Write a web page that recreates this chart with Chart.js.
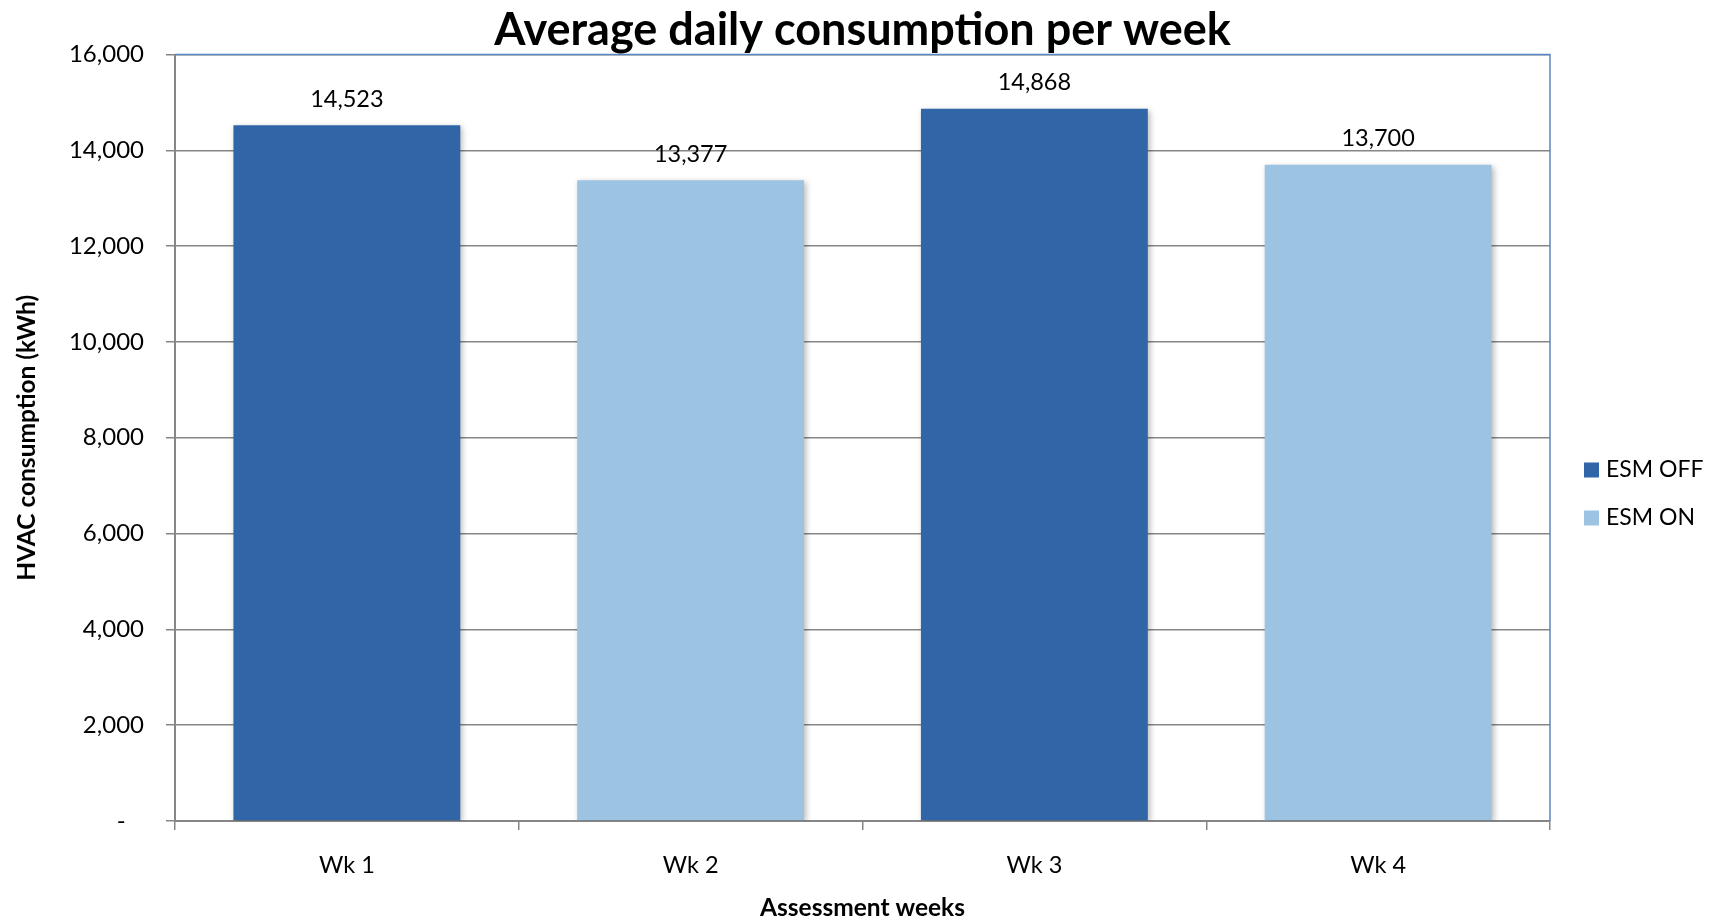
<!DOCTYPE html>
<html>
<head>
<meta charset="utf-8">
<script src="https://cdn.jsdelivr.net/npm/chart.js@4.4.1/dist/chart.umd.min.js"></script>
<style>
  html, body { margin: 0; padding: 0; background: #fff; }
</style>
</head>
<body>
<canvas id="chart" width="1711" height="923"></canvas>
<script>
const weeks = ['Wk 1', 'Wk 2', 'Wk 3', 'Wk 4'];
const esmOff = [14523, null, 14868, null];
const esmOn = [null, 13377, null, 13700];
const yMax = 16000;
const yStep = 2000;

const FONT = 'Lato, "Open Sans", sans-serif';
const darkBlue = '#3066a8';
const lightBlue = '#9dc3e3';
const gridGrey = '#868686';

function fmt(v) {
    return v.toLocaleString('en-US');
}

// title, legend, value labels, blue frame and bar shadow
const extras = {
    id: 'extras',
    beforeDatasetsDraw(chart) {
        const ctx = chart.ctx;
        ctx.save();
        ctx.shadowColor = 'rgba(0,0,0,0.28)';
        ctx.shadowBlur = 6;
        ctx.shadowOffsetX = 2;
        ctx.shadowOffsetY = 2;
    },
    afterDatasetsDraw(chart) {
        chart.ctx.restore();
    },
    afterDraw(chart) {
        const ctx = chart.ctx;
        const area = chart.chartArea;
        ctx.save();

        // blue frame top and right
        ctx.strokeStyle = '#5b87c5';
        ctx.lineWidth = 1.5;
        ctx.beginPath();
        ctx.moveTo(area.left, area.top);
        ctx.lineTo(area.right, area.top);
        ctx.lineTo(area.right, area.bottom);
        ctx.stroke();

        // value labels above bars
        ctx.fillStyle = '#000';
        ctx.font = '23.5px ' + FONT;
        ctx.textAlign = 'center';
        ctx.textBaseline = 'middle';
        chart.data.datasets.forEach((ds, i) => {
            const meta = chart.getDatasetMeta(i);
            meta.data.forEach((bar, j) => {
                const v = ds.data[j];
                if (v == null) return;
                ctx.fillText(fmt(v), bar.x, bar.y - 26);
            });
        });

        // title
        ctx.font = 'bold 45px ' + FONT;
        ctx.fillText('Average daily consumption per week', (area.left + area.right) / 2, 30);

        // legend
        ctx.textAlign = 'left';
        ctx.font = '23px ' + FONT;
        chart.data.datasets.forEach((ds, i) => {
            const y = 470 + i * 48;
            ctx.fillStyle = ds.backgroundColor;
            ctx.fillRect(area.right + 34, y - 7.5, 15, 15);
            ctx.fillStyle = '#000';
            ctx.fillText(ds.label, area.right + 56, y);
        });
        ctx.restore();
    }
};

new Chart(document.getElementById('chart'), {
    type: 'bar',
    data: {
        labels: weeks,
        datasets: [
            { label: 'ESM OFF', data: esmOff, backgroundColor: darkBlue },
            { label: 'ESM ON', data: esmOn, backgroundColor: lightBlue }
        ]
    },
    options: {
        responsive: false,
        animation: false,
        devicePixelRatio: 1,
        layout: { padding: { top: 54.5, right: 161, left: 0, bottom: 0 } },
        datasets: { bar: { barPercentage: 0.66, categoryPercentage: 1 } },
        plugins: {
            legend: { display: false },
            title: { display: false },
            tooltip: { enabled: false }
        },
        scales: {
            x: {
                stacked: true,
                grid: { offset: true, drawOnChartArea: false, color: gridGrey, lineWidth: 1.5, tickLength: 9 },
                border: { color: gridGrey, width: 2 },
                ticks: { color: '#000', font: { family: FONT, size: 23.5 }, padding: 21 },
                title: {
                    display: true, text: 'Assessment weeks', color: '#000',
                    font: { family: FONT, size: 24.5, weight: 'bold' },
                    padding: { top: 0, bottom: 0 }
                },
                afterFit(scale) { scale.height = 102; }
            },
            y: {
                stacked: true,
                min: 0,
                max: yMax,
                ticks: {
                    stepSize: yStep,
                    color: '#000',
                    font: { family: FONT, size: 24 },
                    padding: 22,
                    callback: v => v === 0 ? '-   ' : fmt(v)
                },
                grid: { color: gridGrey, lineWidth: 1.5, tickLength: 9 },
                border: { color: gridGrey, width: 2 },
                title: {
                    display: true, text: 'HVAC consumption (kWh)', color: '#000',
                    font: { family: FONT, size: 24.5, weight: 'bold' },
                    padding: { top: 12, bottom: 0 }
                },
                afterFit(scale) { scale.width = 175; }
            }
        }
    },
    plugins: [extras]
});
</script>
</body>
</html>
